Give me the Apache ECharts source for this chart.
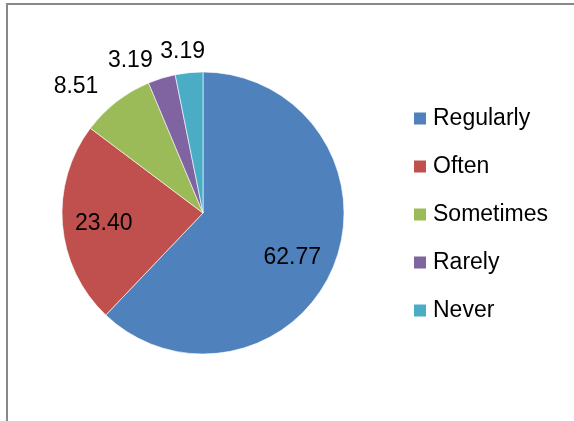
<!DOCTYPE html>
<html>
<head>
<meta charset="utf-8">
<script src="https://cdn.jsdelivr.net/npm/echarts@6/dist/echarts.min.js"></script>
<style>
html,body{margin:0;padding:0;background:#fff;}
#frame{position:absolute;left:6px;top:3px;width:600px;height:440px;border-left:2px solid #888;border-top:2px solid #888;}
#chart{position:absolute;left:0;top:0;width:574px;height:421px;}
</style>
</head>
<body>
<div id="frame"></div>
<div id="chart"></div>
<script>
var categories = ['Regularly', 'Often', 'Sometimes', 'Rarely', 'Never'];
var values = [62.77, 23.40, 8.51, 3.19, 3.19];
var colors = ['#4F81BD', '#C0504D', '#9BBB59', '#8064A2', '#4BACC6'];

var labelStyles = [
  {position: 'inside', offset: [21, 17]},
  {position: 'inside', offset: [-26, 5]},
  {position: 'outside', offset: [-13, -15]},
  {position: 'outside', offset: [-4, -18]},
  {position: 'outside', offset: [21, -21]}
];

var FONT = '"Liberation Sans", Arial, sans-serif';
var chart = echarts.init(document.getElementById('chart'), null, {renderer: 'canvas'});
var data = categories.map(function (c, i) {
  return {
    name: c,
    value: values[i],
    itemStyle: {color: colors[i]},
    label: labelStyles[i]
  };
});
chart.setOption({
  animation: false,
  backgroundColor: 'transparent',
  legend: {
    orient: 'vertical',
    left: 412,
    top: 107,
    padding: 0,
    itemWidth: 14,
    itemHeight: 14,
    itemGap: 25,
    icon: 'rect',
    textStyle: {fontFamily: FONT, fontSize: 23, color: '#000', padding: [0, 0, 0, 1]},
    data: categories
  },
  series: [{
    type: 'pie',
    center: [203, 213],
    radius: 141,
    startAngle: 90,
    clockwise: true,
    avoidLabelOverlap: false,
    labelLayout: {hideOverlap: false},
    itemStyle: {borderColor: '#fff', borderWidth: 0.6},
    label: {
      show: true,
      formatter: function (p) { return p.value.toFixed(2); },
      fontFamily: FONT,
      fontSize: 23,
      color: '#000'
    },
    labelLine: {show: false, length: 0, length2: 0},
    emphasis: {disabled: true},
    data: data
  }]
});
</script>
</body>
</html>
